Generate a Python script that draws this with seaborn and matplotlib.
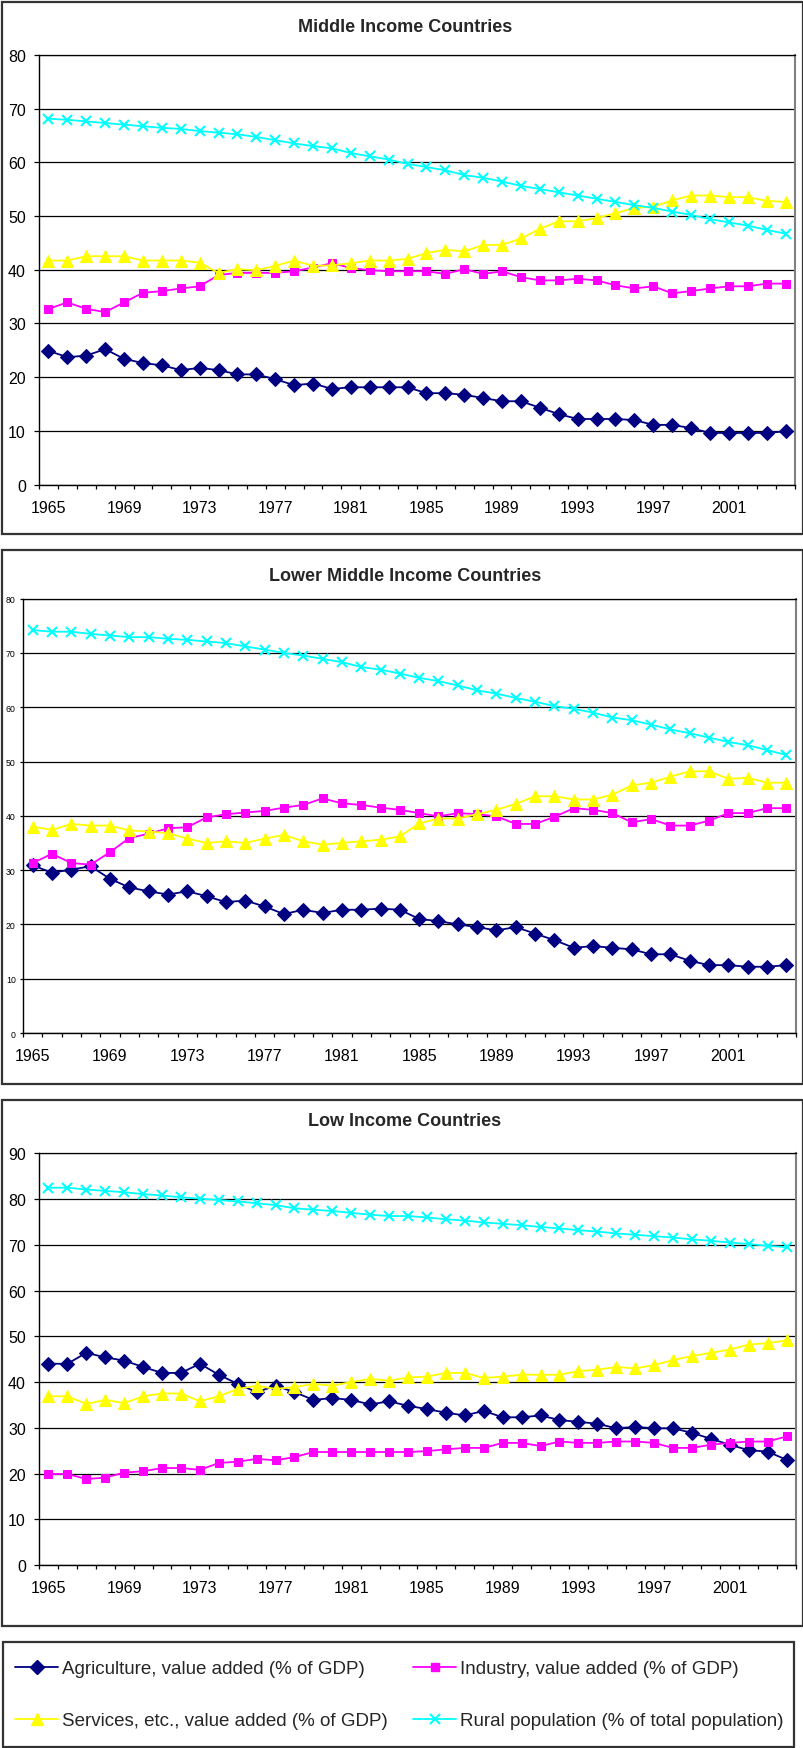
import numpy as np
import pandas as pd
import matplotlib
matplotlib.use("Agg")
import matplotlib.pyplot as plt
import seaborn as sns
from matplotlib.patches import Rectangle
from matplotlib.lines import Line2D

sns.set_style("white")
plt.rcParams["font.family"] = ["Liberation Sans", "DejaVu Sans"]

years = list(range(1965, 2005))
tick_years = [str(y) for y in range(1965, 2004, 4)]

series_names = ["Agriculture, value added (% of GDP)",
                "Industry, value added (% of GDP)",
                "Services, etc., value added (% of GDP)",
                "Rural population (% of total population)"]

# Middle Income Countries
mid_agri = [24.9,23.7,24.0,25.2,23.4,22.6,22.2,21.3,21.7,21.3,20.5,20.5,19.6,18.5,18.8,17.8,18.1,18.1,18.1,18.1,
            17.0,17.0,16.7,16.1,15.5,15.5,14.3,13.1,12.2,12.2,12.2,12.0,11.1,11.1,10.5,9.6,9.6,9.6,9.6,9.9]
mid_ind = [32.7,33.9,32.7,32.1,33.9,35.7,36.0,36.5,36.9,39.0,39.4,39.4,39.4,39.7,40.4,41.2,40.3,39.9,39.7,39.7,
           39.7,39.2,40.1,39.2,39.7,38.6,38.0,38.0,38.3,38.0,37.1,36.5,36.9,35.6,36.0,36.5,36.9,36.9,37.4,37.4]
mid_serv = [41.7,41.7,42.5,42.5,42.5,41.7,41.7,41.7,41.3,39.4,40.1,39.9,40.7,41.7,40.7,40.8,41.2,41.7,41.7,42.0,
            43.1,43.7,43.4,44.6,44.6,45.8,47.6,49.0,49.0,49.6,50.5,51.5,51.7,52.9,53.8,53.8,53.5,53.5,52.8,52.6]
mid_rural = [68.1,67.9,67.6,67.3,67.0,66.7,66.4,66.2,65.8,65.5,65.2,64.7,64.1,63.5,63.0,62.6,61.7,61.1,60.5,59.7,
             59.1,58.5,57.6,57.1,56.4,55.6,55.0,54.4,53.8,53.2,52.6,52.0,51.5,50.8,50.2,49.4,48.8,48.2,47.4,46.7]

# Lower Middle Income Countries
lmid_agri = [30.9,29.5,30.1,30.7,28.4,26.8,26.1,25.5,26.1,25.2,24.1,24.4,23.3,21.9,22.7,22.1,22.7,22.7,22.9,22.7,
             21.0,20.6,20.0,19.5,18.9,19.5,18.3,17.1,15.7,16.0,15.7,15.4,14.5,14.5,13.3,12.5,12.5,12.2,12.2,12.5]
lmid_ind = [31.3,33.0,31.3,31.0,33.3,35.9,36.7,37.7,37.9,39.7,40.3,40.6,40.9,41.5,42.0,43.2,42.3,42.0,41.5,41.1,
            40.5,39.9,40.5,40.3,39.9,38.5,38.5,39.8,41.4,41.1,40.5,38.8,39.4,38.2,38.2,39.1,40.5,40.5,41.4,41.4]
lmid_serv = [38.0,37.4,38.5,38.2,38.2,37.3,37.1,36.8,35.8,35.0,35.3,35.0,35.8,36.5,35.3,34.7,35.0,35.3,35.6,36.2,
             38.6,39.5,39.5,40.3,41.1,42.2,43.6,43.6,43.0,43.0,43.9,45.6,46.1,47.2,48.2,48.2,46.8,47.0,46.1,46.1]
lmid_rural = [74.2,73.9,73.9,73.5,73.2,72.9,72.9,72.6,72.4,72.1,71.8,71.2,70.6,70.0,69.5,68.9,68.3,67.4,66.9,66.2,
              65.4,64.8,64.0,63.1,62.5,61.7,61.0,60.2,59.7,59.0,58.1,57.6,56.8,55.9,55.2,54.4,53.6,53.0,52.1,51.2]

# Low Income Countries
low_agri = [44.0,44.0,46.4,45.4,44.7,43.3,42.0,42.0,44.0,41.6,39.6,37.8,39.2,37.8,36.1,36.5,36.1,35.1,35.8,34.8,
            34.1,33.3,32.7,33.7,32.3,32.3,32.7,31.7,31.3,30.9,29.9,30.2,29.9,29.9,28.9,27.6,26.3,25.1,24.8,23.0]
low_ind = [19.9,19.9,18.8,19.1,20.2,20.5,21.2,21.2,20.8,22.3,22.6,23.2,22.9,23.6,24.7,24.7,24.7,24.7,24.7,24.7,
           24.9,25.3,25.6,25.6,26.7,26.7,26.0,27.0,26.7,26.7,27.0,27.0,26.7,25.6,25.6,26.3,26.7,27.0,27.0,28.1]
low_serv = [36.9,36.9,35.2,36.1,35.4,36.9,37.5,37.5,35.8,36.9,38.5,39.2,38.5,38.9,39.6,39.2,40.0,40.7,40.3,41.0,
            41.2,42.0,42.0,40.9,41.2,41.6,41.6,41.6,42.4,42.7,43.3,43.0,43.7,44.8,45.7,46.4,47.1,48.2,48.5,49.1]
low_rural = [82.5,82.5,82.1,81.8,81.5,81.1,80.8,80.4,80.1,79.8,79.5,79.1,78.7,78.0,77.7,77.4,77.0,76.6,76.3,76.3,
             76.0,75.6,75.3,74.9,74.6,74.3,73.9,73.6,73.2,72.9,72.5,72.2,71.9,71.6,71.2,70.9,70.5,70.2,69.8,69.5]

colors = ["#000080", "#FF00FF", "#FFFF00", "#00FFFF"]
markers = ["D", "s", "^", "x"]
msizes = [6.8, 6.0, 8.0, 7.5]

W, H = 804, 1749
fig = plt.figure(figsize=(W / 100, H / 100), dpi=100)


def add_ax(l, r, t, b):
    return fig.add_axes([l / W, 1 - b / H, (r - l) / W, (b - t) / H])


def box(l, r, t, b, lw=1.6, ec="#333333"):
    fig.add_artist(Rectangle((l / W, 1 - b / H), (r - l) / W, (b - t) / H,
                             transform=fig.transFigure, fill=False, ec=ec, lw=lw))


panels = [
    dict(title="Middle Income Countries", data=[mid_agri, mid_ind, mid_serv, mid_rural],
         ymax=80, pos=(39, 795, 55.8, 485.5), boxy=(3, 535), ty=27.5, ysize=11.5, ypad=5.8, ytl=3.6),
    dict(title="Lower Middle Income Countries", data=[lmid_agri, lmid_ind, lmid_serv, lmid_rural],
         ymax=80, pos=(23, 796, 599.6, 1034), boxy=(551, 1085), ty=577, ysize=6.3, ypad=3.0, ytl=2.2),
    dict(title="Low Income Countries", data=[low_agri, low_ind, low_serv, low_rural],
         ymax=90, pos=(39, 796, 1154.4, 1566), boxy=(1101, 1627), ty=1122, ysize=11.5, ypad=5.8, ytl=3.6),
]

idx = np.arange(len(years))
handles = []
for pi, p in enumerate(panels):
    box(2, 803, p["boxy"][0], p["boxy"][1])
    ax = add_ax(*p["pos"])
    for si, vals in enumerate(p["data"]):
        df = pd.DataFrame({"x": idx, "y": vals})
        kw = dict(marker=markers[si], markersize=msizes[si], color=colors[si],
                  markeredgecolor=colors[si], linewidth=1.3, zorder=3 + si)
        if markers[si] == "x":
            kw["markeredgewidth"] = 1.5
        sns.lineplot(data=df, x="x", y="y", ax=ax, legend=False, **kw)
    if pi == 0:
        for si in range(4):
            h = Line2D([], [], color=colors[si], marker=markers[si],
                       markersize=msizes[si], markeredgecolor=colors[si], linewidth=1.3,
                       markeredgewidth=1.5 if markers[si] == "x" else 1.0)
            handles.append(h)
    ax.set_xlim(-0.5, len(years) - 0.5)
    ax.set_ylim(0, p["ymax"])
    ax.set_xlabel("")
    ax.set_ylabel("")
    ax.set_yticks(np.arange(0, p["ymax"] + 1, 10))
    ax.yaxis.grid(True, color="black", linewidth=0.9)
    ax.xaxis.grid(False)
    ax.set_axisbelow(True)
    ax.set_xticks(np.arange(0, len(years), 4))
    ax.set_xticklabels(tick_years)
    ax.set_xticks(np.arange(-0.5, len(years)), minor=True)
    ax.tick_params(axis="x", which="major", length=0, pad=11, labelsize=11.5, colors="black")
    ax.tick_params(axis="x", which="minor", length=3.2, width=0.9, direction="out",
                   bottom=True, color="black")
    ax.tick_params(axis="y", which="major", length=p["ytl"], width=0.9, direction="out",
                   left=True, pad=p["ypad"], labelsize=p["ysize"], colors="black")
    for s in ["left", "bottom"]:
        ax.spines[s].set_color("black")
        ax.spines[s].set_linewidth(1.0)
    ax.spines["right"].set_color("#808080")
    ax.spines["right"].set_linewidth(1.5)
    ax.spines["top"].set_color("black")
    ax.spines["top"].set_linewidth(0.9)
    fig.text(405 / W, 1 - p["ty"] / H, p["title"], ha="center", va="center",
             fontsize=13, fontweight="bold")

# legend box
box(3, 794, 1643, 1748)
order = [0, 2, 1, 3]
fig.legend([handles[i] for i in order], [series_names[i] for i in order], ncol=2,
           loc="upper left", bbox_to_anchor=(15 / W, 1 - 1661 / H), frameon=False,
           fontsize=13.5, handlelength=2.3, handletextpad=0.2, columnspacing=1.35,
           labelspacing=1.87, borderpad=0, borderaxespad=0, numpoints=1)

fig.savefig("out.png", dpi=100)
